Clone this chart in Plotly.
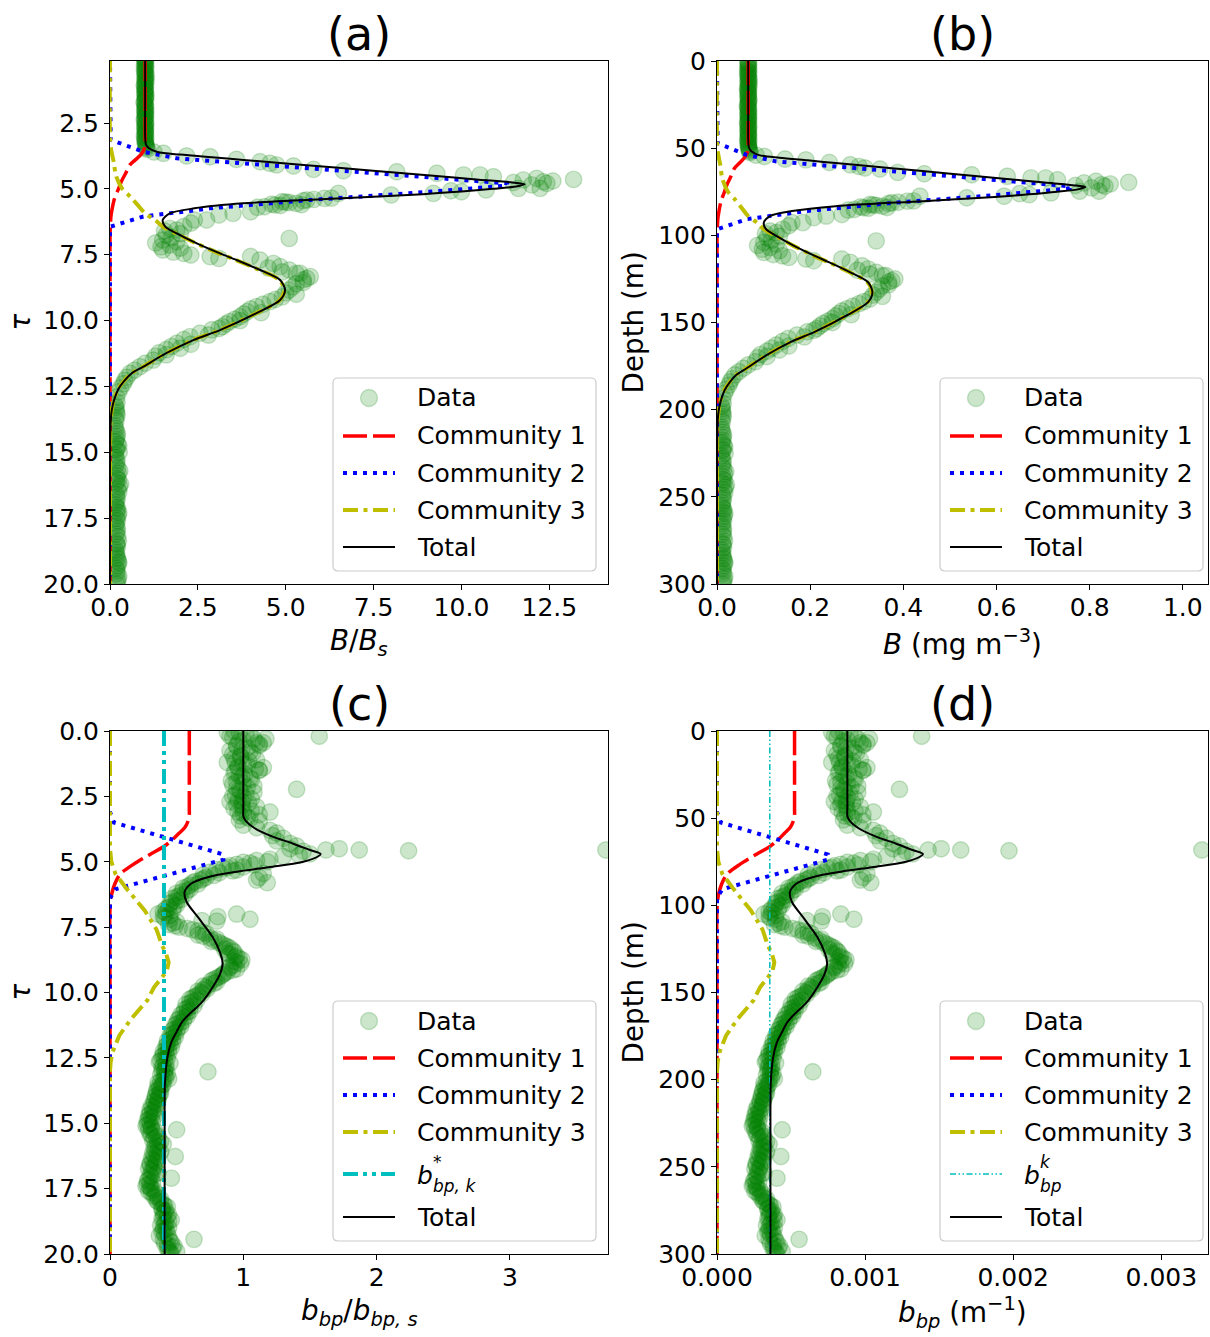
import plotly.graph_objects as go

W, H = 1210, 1337
FONT = "DejaVu Sans"

# ---------------- scale constants ----------------
BS = 0.067             # surface chlorophyll B_s (mg m^-3)
BBPS = 0.00088         # surface particulate backscatter b_bp,s (m^-1)
DEPTH_PER_TAU = 15.0   # metres per unit optical depth
BSTAR = 0.405          # b*_bp,k / b_bp,s

# ---------------- chlorophyll data, panels (a)/(b): tau, B/Bs ----------------
chl_tau_surface = [0.0, 0.1, 0.2, 0.3, 0.4, 0.5, 0.6, 0.7, 0.8, 0.9, 1.0, 1.1, 1.2, 1.3, 1.4, 1.5, 1.6, 1.7,
                   1.8, 1.9, 2.0, 2.1, 2.2, 2.3, 2.4, 2.5, 2.6, 2.7, 2.8, 2.9, 3.0, 3.1, 3.2, 3.3, 3.4, 3.5]
chl_val_surface = [1.0, 1.01, 0.99, 1.02, 1.0, 0.98, 1.01, 1.03, 0.99, 1.0, 1.02, 0.98, 1.0, 1.01, 0.99, 1.02,
                   1.0, 0.97, 1.01, 1.0, 0.99, 1.02, 1.0, 1.01, 0.98, 1.0, 1.02, 0.99, 1.01, 1.0, 0.98, 1.02,
                   1.0, 1.01, 1.03, 1.06]
chl_tau_surface2 = [0.05, 0.15, 0.25, 0.35, 0.45, 0.55, 0.65, 0.75, 0.85, 0.95, 1.05, 1.15, 1.25, 1.35,
                    1.45, 1.55, 1.65, 1.75, 1.85, 1.95, 2.05, 2.15, 2.25, 2.35, 2.45, 2.55, 2.65, 2.75,
                    2.85, 2.95, 3.05, 3.15, 3.25, 3.35, 3.45]
chl_val_surface2 = [0.99, 1.01, 1.0, 0.98, 1.02, 1.0, 0.99, 1.01, 1.03, 1.0, 0.98, 1.01, 1.0, 0.99,
                    1.02, 1.0, 1.01, 0.98, 1.0, 1.02, 0.99, 1.0, 1.01, 0.98, 1.02, 1.0, 0.99, 1.01,
                    1.0, 1.02, 0.99, 1.0, 1.01, 1.03, 1.04]
chl_tau_peak = [3.6, 3.65, 3.75, 3.78, 3.88, 3.97, 4.03, 4.09, 4.13, 4.26, 4.31, 4.35, 4.41, 4.47, 4.47, 4.54,
                4.6, 4.64, 4.66, 4.7, 4.73, 4.76, 4.79, 4.85, 4.98, 4.98]
chl_val_peak = [1.25, 1.52, 2.18, 2.85, 3.6, 4.27, 4.55, 4.74, 5.22, 5.79, 6.64, 8.16, 9.3, 10.06, 10.53, 10.91,
                12.14, 13.19, 11.76, 12.6, 12.33, 11.48, 12.43, 12.0, 12.24, 11.62]
chl_tau_lower = [5.04, 5.07, 5.11, 5.17, 5.17, 5.23, 5.35, 5.36, 5.4, 5.42, 5.45, 5.49, 5.5, 5.52, 5.55, 5.58,
                 5.6, 5.61, 5.63, 5.68, 5.7, 5.87, 5.93, 5.99, 6.18, 6.18, 6.3, 6.43, 6.5, 6.56, 6.6, 6.7]
chl_val_lower = [10.7, 9.7, 10.0, 9.2, 6.5, 8.0, 6.3, 6.1, 5.8, 5.6, 5.5, 4.9, 5.0, 5.1, 5.3, 4.6,
                 5.45, 4.7, 4.85, 4.4, 4.2, 4.0, 3.5, 3.1, 2.75, 2.4, 2.3, 2.1, 1.7, 1.9, 1.55, 2.0]
chl_tau_cluster = [6.75, 6.85, 6.88, 6.94, 7.0, 7.05, 7.13, 7.2, 7.25, 7.32, 7.4, 7.45, 7.51, 7.57, 7.64]
chl_val_cluster = [1.6, 1.75, 5.1, 1.5, 1.9, 1.3, 1.7, 1.45, 2.0, 1.5, 1.8, 2.1, 2.3, 2.85, 3.1]
chl_tau_dcm = [7.57, 7.7, 7.83, 7.95, 8.08, 8.2, 8.21, 8.33, 8.45, 8.6, 8.72, 8.84, 8.95, 9.1, 9.2, 9.28,
               9.38, 9.47, 9.56, 9.66, 9.75, 9.85, 9.95, 10.04, 10.13, 10.23, 10.35, 10.48, 10.61, 10.72,
               10.86, 10.98, 11.1, 11.22, 11.35, 11.5, 11.62, 11.75, 11.88, 12.0, 12.15, 12.27, 12.4,
               12.55, 12.7, 12.9]
chl_val_dcm = [4.0, 4.27, 4.65, 4.84, 5.1, 5.4, 5.3, 5.7, 5.5, 5.3, 5.2, 5.1, 5.0, 4.9, 4.7, 4.55,
               4.35, 4.17, 4.0, 3.9, 3.8, 3.7, 3.55, 3.4, 3.3, 3.2, 2.9, 2.56, 2.28, 2.1,
               1.9, 1.75, 1.6, 1.4, 1.3, 1.23, 1.0, 0.85, 0.7, 0.57, 0.48, 0.42, 0.38,
               0.3, 0.25, 0.19]
chl_tau_extra = [8.0, 8.15, 8.4, 8.55, 9.0, 9.7, 10.0, 10.3, 10.55, 10.9, 11.05, 11.3]
chl_val_extra = [4.5, 4.9, 5.6, 5.5, 5.3, 4.3, 3.7, 3.1, 2.8, 2.3, 2.0, 1.6]
chl_tau_deep = [13.1, 13.3, 13.5, 13.7, 14.0, 14.2, 14.4, 14.6, 14.75, 14.9, 15.1, 15.3, 15.5, 15.7, 15.9,
                16.05, 16.2, 16.4, 16.6, 16.8, 17.0, 17.15, 17.3, 17.5, 17.7, 17.9, 18.1, 18.36, 18.5,
                18.7, 18.9, 19.05, 19.2, 19.4, 19.6, 19.8, 20.0]
chl_val_deep = [0.2, 0.17, 0.19, 0.16, 0.14, 0.18, 0.2, 0.16, 0.25, 0.18, 0.15, 0.2, 0.17, 0.28, 0.2,
                0.24, 0.3, 0.22, 0.18, 0.2, 0.16, 0.22, 0.25, 0.19, 0.17, 0.21, 0.18, 0.24, 0.2,
                0.16, 0.19, 0.22, 0.25, 0.18, 0.2, 0.23, 0.19]
chl_tau_deep2 = [13.2, 13.4, 13.6, 13.8, 14.1, 14.3, 14.5, 14.7, 14.85, 15.0, 15.2, 15.4, 15.6, 15.8, 16.0,
                 16.15, 16.3, 16.5, 16.7, 16.9, 17.1, 17.25, 17.4, 17.6, 17.8, 18.0, 18.2, 18.45, 18.6,
                 18.8, 19.0, 19.15, 19.3, 19.5, 19.7, 19.9]
chl_val_deep2 = [0.15, 0.18, 0.2, 0.17, 0.16, 0.21, 0.18, 0.22, 0.2, 0.26, 0.17, 0.19, 0.22, 0.24, 0.2,
                 0.18, 0.27, 0.25, 0.2, 0.17, 0.19, 0.2, 0.23, 0.21, 0.18, 0.2, 0.22, 0.19, 0.21,
                 0.18, 0.2, 0.24, 0.22, 0.2, 0.25, 0.21]

# ---------------- backscatter data, panels (c)/(d): tau, b_bp/b_bp,s ----------------
bbp_tau_surface = [0.0, 0.1, 0.2, 0.3, 0.4, 0.5, 0.6, 0.7, 0.8, 0.9, 1.0, 1.1, 1.2, 1.3, 1.4, 1.5, 1.6, 1.7,
                   1.8, 1.9, 2.0, 2.1, 2.2, 2.3, 2.4, 2.5, 2.6, 2.7, 2.8, 2.9, 3.0, 3.1, 3.2, 3.3, 3.4]
bbp_val_surface = [0.93, 1.02, 0.9, 1.08, 0.97, 1.12, 0.95, 0.99, 1.05, 0.92, 0.98, 1.1, 0.94, 1.03, 0.96,
                   1.12, 0.93, 0.97, 1.05, 0.91, 1.0, 1.08, 0.95, 0.98, 1.02, 0.92, 1.06, 0.99, 0.95, 1.1,
                   1.0, 0.96, 1.12, 1.03, 0.97]
bbp_tau_surface2 = [0.05, 0.15, 0.25, 0.35, 0.45, 0.55, 0.65, 0.75, 0.85, 0.95, 1.05, 1.15, 1.25, 1.35,
                    1.45, 1.55, 1.65, 1.75, 1.85, 1.95, 2.05, 2.15, 2.25, 2.35, 2.45, 2.55, 2.65, 2.75,
                    2.85, 2.95, 3.05, 3.15, 3.25, 3.35]
bbp_val_surface2 = [0.97, 1.05, 0.92, 1.0, 1.1, 0.95, 1.03, 0.9, 1.07, 0.98, 0.93, 1.04, 1.0, 0.96,
                    1.09, 0.94, 1.01, 0.99, 1.06, 0.95, 0.92, 1.03, 0.97, 1.08, 0.94, 1.0, 0.96, 1.04,
                    0.99, 0.93, 1.06, 1.0, 0.98, 1.05]
bbp_tau_outl = [0.05, 0.2, 0.3, 0.45, 0.55, 1.4, 1.5, 2.23, 3.1, 3.45, 1.2, 2.7]
bbp_val_outl = [0.88, 1.57, 1.17, 1.15, 1.12, 1.15, 1.12, 1.4, 1.2, 1.12, 0.88, 0.9]
bbp_tau_peak = [3.6, 3.7, 3.8, 3.9, 4.0, 4.1, 4.2, 4.3, 4.4, 4.5, 4.6, 4.55, 4.5, 4.55, 4.58, 4.55,
                4.7, 4.75, 4.8]
bbp_val_peak = [1.0, 1.1, 1.2, 1.25, 1.22, 1.3, 1.25, 1.35, 1.4, 1.35, 1.45, 1.62, 1.72, 1.87, 2.24, 3.72,
                1.5, 1.42, 1.3]
bbp_tau_lower = [4.9, 4.95, 5.0, 5.05, 5.1, 5.15, 5.2, 5.25, 5.3, 5.35, 5.4, 5.45, 5.5, 5.6, 5.7, 5.8,
                 5.6, 5.7, 5.8, 5.9, 6.0, 6.1, 6.2, 6.3, 6.4, 6.5, 6.6, 6.7, 6.8, 6.9, 7.0, 7.1, 7.2,
                 7.3, 7.4, 7.5, 7.0, 7.2, 7.1, 7.25, 7.27]
bbp_val_lower = [1.2, 1.1, 1.18, 1.05, 0.95, 0.9, 1.0, 0.85, 0.8, 0.92, 0.75, 1.15, 0.7, 1.12, 1.1, 1.18,
                 0.72, 0.68, 0.62, 0.6, 0.55, 0.58, 0.5, 0.52, 0.47, 0.5, 0.45, 0.48, 0.42, 0.4, 0.36,
                 0.4, 0.45, 0.5, 0.44, 0.52, 0.95, 1.05, 0.81, 0.69, 0.8]
bbp_tau_lower2 = [5.02, 5.12, 5.22, 5.32, 5.42, 5.52, 5.65, 5.75, 5.85, 5.95, 6.05, 6.15, 6.25, 6.35,
                  6.45, 6.55, 6.65, 6.75, 6.85, 6.95, 7.05, 7.15, 7.35, 7.45]
bbp_val_lower2 = [1.0, 1.08, 0.88, 0.95, 0.82, 0.78, 0.7, 0.64, 0.66, 0.58, 0.6, 0.54, 0.56, 0.5,
                  0.53, 0.46, 0.5, 0.44, 0.47, 0.42, 0.45, 0.41, 0.47, 0.49]
bbp_tau_dcm = [7.6, 7.7, 7.8, 7.9, 8.0, 8.1, 8.2, 8.3, 8.4, 8.5, 8.6, 8.7, 8.8, 8.9, 9.0, 9.1, 9.2, 9.3,
               9.4, 9.5, 9.6, 9.7, 9.8, 9.9, 10.0, 10.1, 10.2, 10.3, 10.4, 10.5, 10.6, 10.7, 10.8, 10.9,
               11.0, 11.1, 11.2, 11.3, 11.4, 11.5, 11.6, 11.7, 11.8, 11.9, 12.0, 12.1, 12.2, 12.3, 12.4,
               12.5, 12.6, 12.7, 12.8, 12.9, 13.03]
bbp_val_dcm = [0.62, 0.7, 0.66, 0.75, 0.78, 0.82, 0.86, 0.9, 0.92, 0.88, 0.95, 0.97, 0.93, 0.98, 0.9, 0.95,
               0.88, 0.85, 0.82, 0.78, 0.8, 0.74, 0.72, 0.7, 0.68, 0.66, 0.62, 0.65, 0.6, 0.63, 0.58, 0.6,
               0.55, 0.58, 0.52, 0.55, 0.5, 0.53, 0.48, 0.5, 0.46, 0.49, 0.45, 0.47, 0.43, 0.46, 0.42,
               0.44, 0.4, 0.43, 0.38, 0.45, 0.4, 0.42, 0.735]
bbp_tau_dcm2 = [7.55, 7.65, 7.75, 7.85, 7.95, 8.05, 8.15, 8.25, 8.35, 8.45,
                8.55, 8.65, 8.75, 8.85, 8.95, 9.05, 9.15, 9.25, 9.35, 9.45,
                9.55, 9.65, 9.75, 9.85, 9.95, 10.05, 10.15, 10.25, 10.35, 10.45,
                10.55, 10.65, 10.75, 10.85, 10.95, 11.05, 11.15, 11.25, 11.35, 11.45,
                11.55, 11.65, 11.75, 11.85, 11.95, 12.05, 12.15, 12.25, 12.35, 12.45,
                12.55, 12.65, 12.75, 12.85, 12.95]
bbp_val_dcm2 = [0.58, 0.66, 0.72, 0.7, 0.8, 0.76, 0.84, 0.88, 0.86, 0.93,
                0.9, 0.94, 0.99, 0.95, 0.93, 0.9, 0.92, 0.86, 0.84, 0.8,
                0.76, 0.78, 0.7, 0.73, 0.66, 0.69, 0.64, 0.6, 0.62, 0.57,
                0.6, 0.56, 0.58, 0.53, 0.56, 0.51, 0.53, 0.49, 0.51, 0.47,
                0.48, 0.45, 0.47, 0.43, 0.45, 0.42, 0.44, 0.4, 0.42, 0.39,
                0.41, 0.37, 0.42, 0.39, 0.41]
bbp_tau_deep = [13.0, 13.1, 13.2, 13.3, 13.4, 13.5, 13.6, 13.7, 13.8, 13.9,
                14.0, 14.1, 14.2, 14.3, 14.4, 14.5, 14.6, 14.7, 14.8, 14.9,
                15.0, 15.1, 15.2, 15.25, 15.3, 15.4, 15.5, 15.6, 15.7, 15.8, 15.9,
                16.0, 16.1, 16.2, 16.27, 16.3, 16.4, 16.5, 16.6, 16.7, 16.8, 16.9,
                17.0, 17.1, 17.2, 17.3, 17.4, 17.5, 17.6, 17.7, 17.8, 17.9,
                18.0, 18.1, 18.2, 18.3, 18.4, 18.5, 18.6, 18.7, 18.8, 18.9,
                19.0, 19.1, 19.2, 19.3, 19.44, 19.5, 19.6, 19.7, 19.8, 19.9, 20.0]
bbp_val_deep = [0.39, 0.43, 0.41, 0.44, 0.38, 0.4, 0.36, 0.38, 0.35, 0.37,
                0.34, 0.36, 0.33, 0.35, 0.32, 0.3, 0.33, 0.29, 0.31, 0.28,
                0.3, 0.27, 0.31, 0.5, 0.34, 0.3, 0.36, 0.33, 0.38, 0.4, 0.36,
                0.34, 0.38, 0.33, 0.49, 0.36, 0.32, 0.35, 0.3, 0.33, 0.31, 0.36,
                0.3, 0.46, 0.28, 0.3, 0.27, 0.31, 0.29, 0.35, 0.33, 0.38,
                0.36, 0.4, 0.43, 0.39, 0.41, 0.44, 0.4, 0.46, 0.42, 0.38,
                0.44, 0.4, 0.43, 0.37, 0.63, 0.45, 0.41, 0.48, 0.43, 0.5, 0.46]
bbp_tau_deep2 = [13.05, 13.15, 13.25, 13.35, 13.45, 13.55, 13.65, 13.75, 13.85, 13.95,
                 14.05, 14.15, 14.25, 14.35, 14.45, 14.55, 14.65, 14.75, 14.85, 14.95,
                 15.05, 15.15, 15.25, 15.35, 15.45, 15.55, 15.65, 15.75, 15.85, 15.95,
                 16.05, 16.15, 16.25, 16.35, 16.45, 16.55, 16.65, 16.75, 16.85, 16.95,
                 17.05, 17.15, 17.25, 17.35, 17.45, 17.55, 17.65, 17.75, 17.85, 17.95,
                 18.05, 18.15, 18.25, 18.35, 18.45, 18.55, 18.65, 18.75, 18.85, 18.95,
                 19.05, 19.15, 19.25, 19.35, 19.45, 19.55, 19.65, 19.75, 19.85, 19.95]
bbp_val_deep2 = [0.41, 0.38, 0.42, 0.4, 0.36, 0.39, 0.37, 0.35, 0.38, 0.34,
                 0.36, 0.33, 0.35, 0.31, 0.34, 0.32, 0.3, 0.33, 0.29, 0.32,
                 0.28, 0.31, 0.29, 0.33, 0.31, 0.35, 0.32, 0.36, 0.34, 0.33,
                 0.36, 0.32, 0.35, 0.31, 0.34, 0.3, 0.33, 0.29, 0.32, 0.34,
                 0.31, 0.29, 0.32, 0.28, 0.3, 0.33, 0.31, 0.34, 0.36, 0.35,
                 0.38, 0.41, 0.39, 0.42, 0.4, 0.43, 0.39, 0.44, 0.41, 0.4,
                 0.42, 0.39, 0.41, 0.44, 0.4, 0.46, 0.43, 0.47, 0.44, 0.45]

# ---------------- model curves, panels (a)/(b) ----------------
tot_a_tau = [0.0, 1.0, 2.0, 3.0, 3.3, 3.45, 3.6, 3.7, 3.8, 3.9, 4.1, 4.3, 4.5, 4.65, 4.75, 4.82, 4.9, 5.0,
             5.1, 5.2, 5.36, 5.55, 5.74, 5.93, 6.18, 6.43, 6.69, 7.07, 7.45, 7.7, 8.08, 8.46, 8.84, 9.22,
             9.72, 10.36, 10.74, 11.24, 11.75, 12.0, 12.3, 12.6, 13.0, 13.4, 13.8, 14.5, 16.0, 18.0, 20.0]
tot_a_val = [1.0, 1.0, 1.0, 1.0, 1.02, 1.1, 1.35, 2.0, 2.9, 3.8, 5.6, 7.4, 9.2, 10.5, 11.4, 11.8, 11.6, 10.9,
             10.0, 8.9, 6.6, 3.8, 2.4, 1.7, 1.5, 1.57, 1.9, 2.47, 3.13, 3.6, 4.27, 4.84, 4.98, 4.84,
             4.17, 3.13, 2.37, 1.6, 0.95, 0.62, 0.4, 0.24, 0.12, 0.05, 0.02, 0.005, 0.0, 0.0, 0.0]
c1_a_tau = [0.0, 1.0, 2.0, 3.0, 3.3, 3.5, 3.7, 3.9, 4.1, 4.4, 4.7, 5.0, 5.4, 5.7, 6.0, 6.4, 6.8, 8.0, 12.0,
            16.0, 20.0]
c1_a_val = [1.0, 1.0, 1.0, 1.0, 1.0, 0.97, 0.88, 0.72, 0.56, 0.45, 0.33, 0.24, 0.12, 0.07, 0.03, 0.01, 0.0,
            0.0, 0.0, 0.0, 0.0]
c2_a_tau = [0.0, 3.0, 3.14, 3.59, 3.84, 4.79, 4.87, 4.92, 5.17, 5.42, 5.74, 6.05, 6.43, 6.6, 20.0]
c2_a_val = [0.0, 0.0, 0.02, 0.95, 1.9, 11.3, 11.3, 10.9, 8.5, 5.7, 2.85, 0.95, 0.02, 0.0, 0.0]
c3_a_tau = [0.0, 3.0, 3.5, 4.0, 4.5, 5.0, 5.3, 5.6, 5.93, 6.2, 6.43, 6.69, 7.07, 7.45, 7.7, 8.08, 8.46, 8.84,
            9.22, 9.72, 10.36, 10.74, 11.24, 11.75, 12.0, 12.3, 12.6, 13.0, 13.4, 13.8, 14.5, 16.0, 18.0, 20.0]
c3_a_val = [0.0, 0.0, 0.03, 0.11, 0.17, 0.35, 0.58, 0.78, 1.0, 1.3, 1.5, 1.88, 2.45, 3.1, 3.58, 4.25, 4.82,
            4.96, 4.83, 4.16, 3.12, 2.36, 1.59, 0.94, 0.61, 0.39, 0.23, 0.11, 0.05, 0.02, 0.005, 0.0, 0.0, 0.0]

# ---------------- model curves, panels (c)/(d) ----------------
tot_c_tau = [0.0, 1.0, 2.0, 3.0, 3.25, 3.45, 3.7, 4.04, 4.3, 4.55, 4.7, 4.8, 5.0, 5.19, 5.38, 5.58, 5.83,
             6.15, 6.54, 7.12, 7.88, 8.53, 8.9, 9.3, 9.8, 10.37, 10.8, 11.13, 11.5, 11.9, 12.5, 13.5, 15.0,
             17.5, 20.0]
tot_c_val = [1.0, 1.0, 1.0, 1.0, 1.0, 1.02, 1.08, 1.22, 1.37, 1.5, 1.58, 1.56, 1.45, 1.22, 0.95, 0.74, 0.61,
             0.56, 0.575, 0.66, 0.77, 0.83, 0.845, 0.825, 0.77, 0.69, 0.6, 0.54, 0.5, 0.46, 0.43, 0.412, 0.41,
             0.41, 0.41]
c1_c_tau = [0.0, 1.0, 2.0, 3.0, 3.2, 3.45, 3.7, 3.9, 4.1, 4.4, 4.72, 5.1, 5.48, 5.86, 6.3, 6.8, 10.0, 15.0, 20.0]
c1_c_val = [0.595, 0.595, 0.595, 0.595, 0.595, 0.585, 0.56, 0.52, 0.48, 0.41, 0.3, 0.175, 0.075, 0.035, 0.01,
            0.0, 0.0, 0.0, 0.0]
c2_c_tau = [0.0, 3.1, 3.5, 4.72, 4.92, 6.05, 6.4, 20.0]
c2_c_val = [0.0, 0.0, 0.03, 0.85, 0.85, 0.04, 0.0, 0.0]
c3_c_tau = [0.0, 4.5, 5.0, 5.45, 6.0, 6.86, 7.6, 8.2, 8.5, 8.85, 9.2, 9.5, 9.8, 10.3, 11.0, 11.64, 12.27,
            12.65, 13.0, 20.0]
c3_c_val = [0.0, 0.0, 0.01, 0.04, 0.12, 0.26, 0.35, 0.39, 0.42, 0.44, 0.425, 0.38, 0.33, 0.28, 0.16, 0.07,
            0.02, 0.005, 0.0, 0.0]
bstar_tau = [0.0, 20.0]

# ---------------- tick labels ----------------
tau_ticks_a = [2.5, 5.0, 7.5, 10.0, 12.5, 15.0, 17.5, 20.0]
tau_ticks_c = [0.0, 2.5, 5.0, 7.5, 10.0, 12.5, 15.0, 17.5, 20.0]
depth_ticks = [0, 50, 100, 150, 200, 250, 300]
x_ticks_a = [0.0, 2.5, 5.0, 7.5, 10.0, 12.5]
x_ticks_b = [0.0, 0.2, 0.4, 0.6, 0.8, 1.0]
x_ticks_c = [0, 1, 2, 3]
x_ticks_d = [0.0, 0.001, 0.002, 0.003]

chl_tau = (chl_tau_surface + chl_tau_surface2 + chl_tau_peak + chl_tau_lower + chl_tau_cluster
           + chl_tau_dcm + chl_tau_extra + chl_tau_deep + chl_tau_deep2)
chl_val = (chl_val_surface + chl_val_surface2 + chl_val_peak + chl_val_lower + chl_val_cluster
           + chl_val_dcm + chl_val_extra + chl_val_deep + chl_val_deep2)
bbp_tau = (bbp_tau_surface + bbp_tau_surface2 + bbp_tau_outl + bbp_tau_peak + bbp_tau_lower
           + bbp_tau_lower2 + bbp_tau_dcm + bbp_tau_dcm2 + bbp_tau_deep + bbp_tau_deep2)
bbp_val = (bbp_val_surface + bbp_val_surface2 + bbp_val_outl + bbp_val_peak + bbp_val_lower
           + bbp_val_lower2 + bbp_val_dcm + bbp_val_dcm2 + bbp_val_deep + bbp_val_deep2)
assert len(chl_tau) == len(chl_val)
assert len(bbp_tau) == len(bbp_val)

# ---------------- styles ----------------
GREEN_A = "rgba(0,128,0,0.2)"
RED = "#ff0000"
BLUE = "#0000ff"
YEL = "#bfbf00"
CYAN = "#00bfbf"
ST_RED = dict(color=RED, width=3.5, dash="24px,6px")
ST_BLUE = dict(color=BLUE, width=4, dash="4px,6px")
ST_YEL = dict(color=YEL, width=4, dash="15px,5.5px,4px,5.5px")
ST_CYAN_C = dict(color=CYAN, width=4, dash="15px,5px,4px,5px,4px,5px")
ST_CYAN_D = dict(color=CYAN, width=1.5, dash="6px,2.5px,1.5px,2.5px,1.5px,2.5px")
ST_BLACK = dict(color="black", width=2)

fig = go.Figure()


def add_data(xa, ya, tau, val, xs, ys):
    fig.add_trace(go.Scatter(
        x=[v * xs for v in val], y=[t * ys for t in tau], mode="markers", name="Data",
        marker=dict(size=16.5, color=GREEN_A, line=dict(color=GREEN_A, width=1.4)),
        xaxis=xa, yaxis=ya, showlegend=False, hoverinfo="skip"))


def add_line(xa, ya, tau, val, xs, ys, style, name, shape="spline"):
    ln = dict(style)
    ln["shape"] = shape
    if shape == "spline":
        ln["smoothing"] = 0.8
    fig.add_trace(go.Scatter(
        x=[v * xs for v in val], y=[t * ys for t in tau], mode="lines", name=name,
        line=ln, xaxis=xa, yaxis=ya, showlegend=False, hoverinfo="skip"))


for xa, ya, xs, ys in (("x", "y", 1.0, 1.0), ("x2", "y2", BS, DEPTH_PER_TAU)):
    add_data(xa, ya, chl_tau, chl_val, xs, ys)
    add_line(xa, ya, c1_a_tau, c1_a_val, xs, ys, ST_RED, "Community 1")
    add_line(xa, ya, c2_a_tau, c2_a_val, xs, ys, ST_BLUE, "Community 2", "linear")
    add_line(xa, ya, c3_a_tau, c3_a_val, xs, ys, ST_YEL, "Community 3")
    add_line(xa, ya, tot_a_tau, tot_a_val, xs, ys, ST_BLACK, "Total")

for xa, ya, xs, ys, cst in (("x3", "y3", 1.0, 1.0, ST_CYAN_C), ("x4", "y4", BBPS, DEPTH_PER_TAU, ST_CYAN_D)):
    add_data(xa, ya, bbp_tau, bbp_val, xs, ys)
    add_line(xa, ya, c1_c_tau, c1_c_val, xs, ys, ST_RED, "Community 1")
    add_line(xa, ya, c2_c_tau, c2_c_val, xs, ys, ST_BLUE, "Community 2", "linear")
    add_line(xa, ya, c3_c_tau, c3_c_val, xs, ys, ST_YEL, "Community 3", "linear")
    add_line(xa, ya, bstar_tau, [BSTAR, BSTAR], xs, ys, cst, "b*bp,k", "linear")
    add_line(xa, ya, tot_c_tau, tot_c_val, xs, ys, ST_BLACK, "Total")


# ---------------- axes ----------------
def X(px):
    return px / W


def Y(py):
    return 1 - py / H


PANELS = {"a": (110, 608, 61, 584), "b": (717, 1208, 61, 584),
          "c": (110, 608, 731, 1254), "d": (717, 1208, 731, 1254)}


def axis(domain, rng, tickvals, fmt, anchor, is_x):
    d = dict(domain=domain, range=rng, tickvals=tickvals, tickformat=fmt, anchor=anchor,
             automargin=False,
             showline=True, linecolor="black", linewidth=1.1, mirror=True,
             ticks="outside", ticklen=5, tickwidth=1.1, tickcolor="black",
             showgrid=False, zeroline=False,
             tickfont=dict(family=FONT, size=25, color="black"))
    if is_x:
        d["ticklabelstandoff"] = -4
    return d


def xdom(p):
    x0, x1, _, _ = PANELS[p]
    return [X(x0), X(x1)]


def ydom(p):
    _, _, y0, y1 = PANELS[p]
    return [Y(y1), Y(y0)]


layout = dict(
    template="none",
    width=W, height=H, autosize=False,
    margin=dict(l=0, r=0, t=0, b=0, pad=0),
    paper_bgcolor="white", plot_bgcolor="white",
    font=dict(family=FONT, color="black"),
    showlegend=False,
    xaxis=axis(xdom("a"), [0, 14.17], x_ticks_a, ".1f", "y", True),
    yaxis=axis(ydom("a"), [20, 0.146], tau_ticks_a, ".1f", "x", False),
    xaxis2=axis(xdom("b"), [0, 1.054], x_ticks_b, ".1f", "y2", True),
    yaxis2=axis(ydom("b"), [300, 0], depth_ticks, "d", "x2", False),
    xaxis3=axis(xdom("c"), [0, 3.736], x_ticks_c, "d", "y3", True),
    yaxis3=axis(ydom("c"), [20, 0], tau_ticks_c, ".1f", "x3", False),
    xaxis4=axis(xdom("d"), [0, 0.003315], x_ticks_d, ".3f", "y4", True),
    yaxis4=axis(ydom("d"), [300, 0], depth_ticks, "d", "x4", False),
)
fig.update_layout(**layout)

annotations = []
shapes = []


def text(px, py, s, size, angle=0, xanchor="center", yanchor="middle"):
    annotations.append(dict(x=X(px), y=Y(py), xref="paper", yref="paper", text=s, showarrow=False,
                            font=dict(family=FONT, size=size, color="black"), textangle=angle,
                            xanchor=xanchor, yanchor=yanchor, borderpad=0))


# panel titles
for p, lab in (("a", "(a)"), ("b", "(b)"), ("c", "(c)"), ("d", "(d)")):
    x0, x1, y0, _ = PANELS[p]
    text((x0 + x1) / 2, y0 - 27, lab, 46)

# axis titles
text(359, 642, "<i>B</i>/<i>B</i><sub><i>s</i></sub>", 27.8)
text(962.5, 642, "<i>B</i> (mg m<sup>−3</sup>)", 27.8)
text(359, 1312, "<i>b</i><sub><i>bp</i></sub>/<i>b</i><sub><i>bp, s</i></sub>", 27.8)
text(962.5, 1312, "<i>b</i><sub><i>bp</i></sub> (m<sup>−1</sup>)", 27.8)
text(20, 322.5, "<i>τ</i>", 27.8, angle=-90)
text(20, 992.5, "<i>τ</i>", 27.8, angle=-90)
text(633, 322.5, "Depth (m)", 27.8, angle=-90)
text(633, 992.5, "Depth (m)", 27.8, angle=-90)


# ---------------- legends (drawn in pixel space) ----------------
def legend_box(x0, y0, x1, y1, r=5):
    path = (f"M {X(x0 + r)},{Y(y0)} L {X(x1 - r)},{Y(y0)} Q {X(x1)},{Y(y0)} {X(x1)},{Y(y0 + r)} "
            f"L {X(x1)},{Y(y1 - r)} Q {X(x1)},{Y(y1)} {X(x1 - r)},{Y(y1)} "
            f"L {X(x0 + r)},{Y(y1)} Q {X(x0)},{Y(y1)} {X(x0)},{Y(y1 - r)} "
            f"L {X(x0)},{Y(y0 + r)} Q {X(x0)},{Y(y0)} {X(x0 + r)},{Y(y0)} Z")
    shapes.append(dict(type="path", path=path, xref="paper", yref="paper",
                       fillcolor="rgba(255,255,255,0.8)", line=dict(color="#cccccc", width=1.2),
                       layer="above"))


def legend_line(x0, cy, style):
    shapes.append(dict(type="line", xref="paper", yref="paper", x0=X(x0 + 10), x1=X(x0 + 62),
                       y0=Y(cy), y1=Y(cy), line=dict(style), layer="above"))


def legend_marker(x0, cy):
    cx = x0 + 36
    shapes.append(dict(type="circle", xref="paper", yref="paper", x0=X(cx - 8.5), x1=X(cx + 8.5),
                       y0=Y(cy + 8.5), y1=Y(cy - 8.5), fillcolor=GREEN_A,
                       line=dict(color=GREEN_A, width=1.4), layer="above"))


def make_legend(x0, y0, x1, y1, entries, cyan_style, cyan_label):
    legend_box(x0, y0, x1, y1)
    tx = x0 + 83
    for kind, cy in entries:
        if kind == "data":
            legend_marker(x0, cy)
            text(tx, cy, "Data", 25, xanchor="left")
        elif kind == "c1":
            legend_line(x0, cy, ST_RED)
            text(tx, cy, "Community 1", 25, xanchor="left")
        elif kind == "c2":
            legend_line(x0, cy, ST_BLUE)
            text(tx, cy, "Community 2", 25, xanchor="left")
        elif kind == "c3":
            legend_line(x0, cy, ST_YEL)
            text(tx, cy, "Community 3", 25, xanchor="left")
        elif kind == "bk":
            legend_line(x0, cy, cyan_style)
            text(tx, cy + 1, "<i>b</i>", 25, xanchor="left")
            sup, sub = cyan_label
            text(tx + 16, cy - 12, sup, 17, xanchor="left")
            text(tx + 16, cy + 12, sub, 17, xanchor="left")
        elif kind == "tot":
            legend_line(x0, cy, ST_BLACK)
            text(tx, cy, "Total", 25, xanchor="left")


top_entries = [("data", 398), ("c1", 436), ("c2", 473), ("c3", 510), ("tot", 547)]
bot_entries = [("data", 1021), ("c1", 1058), ("c2", 1095), ("c3", 1132), ("bk", 1174), ("tot", 1217)]
make_legend(333, 378, 596, 571, top_entries, None, None)
make_legend(940, 378, 1203, 571, top_entries, None, None)
make_legend(333, 1001, 596, 1241, bot_entries, ST_CYAN_C, ("*", "<i>bp, k</i>"))
make_legend(940, 1001, 1203, 1241, bot_entries, ST_CYAN_D, ("<i>k</i>", "<i>bp</i>"))

fig.update_layout(annotations=annotations, shapes=shapes)

fig.write_html("out.html", config={"displayModeBar": False},
               post_script="document.body.style.margin='0px';document.body.style.overflow='hidden';")
